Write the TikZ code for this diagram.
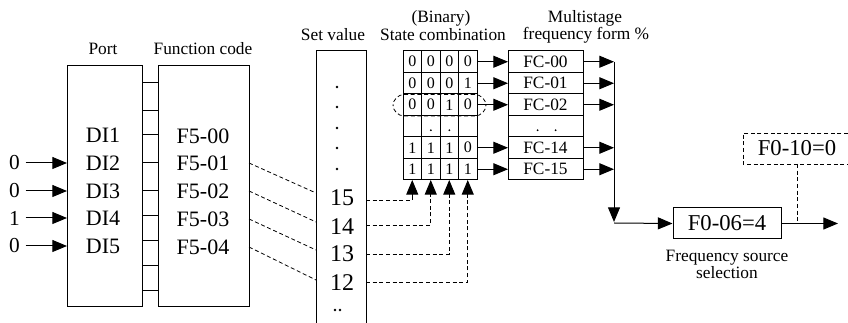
\documentclass[tikz,border=0pt]{standalone}
\usepackage{fontspec}
\setmainfont{Liberation Serif}
\usetikzlibrary{arrows.meta,fit,calc}
\begin{document}
\begin{tikzpicture}[x=0.75pt,y=-0.75pt,line width=0.75pt,
  arr/.style={-{Triangle[length=11pt,width=9pt]}},
  dsh/.style={dash pattern=on 3pt off 2pt,line width=0.6pt},
  frame/.style={draw,inner sep=0pt,outer sep=0pt},
  big/.style={font=\fontsize{16.5}{19}\selectfont,inner sep=0pt},
  num/.style={font=\fontsize{18}{20}\selectfont,inner sep=0pt},
  lbl/.style={font=\fontsize{13}{13}\selectfont,inner sep=0pt},
  cellst/.style={draw,inner sep=0pt,outer sep=0pt,minimum width=13.875pt,minimum height=16.125pt,font=\fontsize{12}{12}\selectfont},
  fcst/.style={draw,inner sep=0pt,outer sep=0pt,minimum width=56.25pt,minimum height=16.125pt,font=\fontsize{13}{13}\selectfont}]
\useasboundingbox (0,0) rectangle (848,323);

% ---- top labels
\node[lbl,anchor=base] (lport) at (103,55) {Port};
\node[lbl,anchor=base] (lfc) at (203,55) {Function code};
\node[lbl,anchor=base] (lsv) at (333,41) {Set value};
\node[lbl,anchor=base] (lbin) at (441,23) {(Binary)};
\node[lbl,anchor=base] (lsc) at (443,41) {State combination};
\node[lbl,anchor=base] (lms) at (585,23) {Multistage};
\node[lbl,anchor=base] (lff) at (586,40) {frequency form \%};

% ---- port and function code boxes
\node[frame,fit={(67,66) (142,307)}] (port) {};
\node[frame,fit={(158,66) (249,307)}] (fc) {};
\foreach \yy in {83,111,135,163,191,216,241,266,291}{
  \coordinate (t) at (0,\yy);
  \draw (port.east |- t) -- (fc.west |- t);
}
\foreach \i/\yy in {1/135,2/163,3/191,4/218,5/246}{
  \node[big] (di\i) at (103,\yy) {DI\i};
}
\foreach \i/\yy in {0/136,1/163,2/191,3/219,4/247}{
  \node[big] (f50\i) at (203,\yy) {F5-0\i};
}
% inputs
\foreach \i/\v in {2/0,3/0,4/1,5/0}{
  \node[big,font=\fontsize{16}{18}\selectfont] (in\i) at (14.5,0 |- di\i) {\v};
  \draw[arr,shorten <=4pt] (in\i.east) -- (in\i.east -| port.west);
}

% ---- set value column
\node[inner sep=0pt,outer sep=0pt,fit={(316,51) (366,323)}] (sv) {};
\draw (sv.south west) -- (sv.north west) -- (sv.north east) -- (sv.south east);
\foreach \yy in {87,107,128,148,169}{ \fill (337,\yy) circle (1.4); }
\node[num] (s15) at (342,198) {15};
\node[num] (s14) at (342,227) {14};
\node[num] (s13) at (342,254) {13};
\node[num] (s12) at (342,283) {12};
\fill (335,310) circle (1.3);
\fill (340,310) circle (1.3);

% dashed links function code -> set value
\coordinate (e15) at (316,193);
\coordinate (e14) at (316,222);
\coordinate (e13) at (316,250);
\coordinate (e12) at (316,280);
\draw[dsh] (fc.east |- f501) -- (e15);
\draw[dsh] (fc.east |- f502) -- (e14);
\draw[dsh] (fc.east |- f503) -- (e13);
\draw[dsh] (fc.east |- f504) -- (e12);

% ---- state combination grid
\foreach \r/\a/\b/\c/\d in {1/0/0/0/0,2/0/0/0/1,3/0/0/1/0,4/{}/{}/{}/{},5/1/1/1/0,6/1/1/1/1}{
  \foreach \cc/\v in {1/\a,2/\b,3/\c,4/\d}{
    \node[cellst] (g-\r-\cc) at ({403+18.5*(\cc-0.5)},{51+21.5*(\r-0.5)}) {\v};
  }
}
\fill ($(g-4-2.center)+(0,4)$) circle (1);
\fill ($(g-4-3.center)+(0,4)$) circle (1);
\node[draw,dsh,rounded corners=8.5pt,inner sep=0pt,fit={(393,94.5) (486,116)}] (sel) {};

% bottom arrows into grid
\foreach \cc in {1,2,3,4}{
  \coordinate (b\cc) at ($(g-6-\cc.south)+(0,17)$);
  \draw[arr] (b\cc) -- (g-6-\cc.south);
}
\coordinate (h15) at (0,200);
\coordinate (h14) at (0,225);
\coordinate (h13) at (0,254);
\coordinate (h12) at (0,282);
\draw[dsh] (sv.east |- h15) -| (b1);
\draw[dsh] (sv.east |- h14) -| (b2);
\draw[dsh] (sv.east |- h13) -| (b3);
\draw[dsh] (sv.east |- h12) -| (b4);

% ---- multistage frequency column
\foreach \r/\t in {1/FC-00,2/FC-01,3/FC-02,4/{},5/FC-14,6/FC-15}{
  \node[fcst] (fcr-\r) at (545.5,{51+21.5*(\r-0.5)}) {\t};
}
\fill ($(fcr-4.center)+(-8,4)$) circle (1);
\fill ($(fcr-4.center)+(10,4)$) circle (1);
\coordinate (bustop) at (614,0 |- fcr-1.east);
\coordinate (busbot) at (614,223);
\foreach \r in {1,2,3,5,6}{
  \draw[arr] (g-\r-4.east) -- (fcr-\r.west);
  \draw[arr] (fcr-\r.east) -- (fcr-\r.east -| bustop);
}
\draw[arr] (bustop) -- ($(busbot)+(0,-1)$);

% ---- frequency source selection
\node[draw,big,font=\fontsize{17}{20}\selectfont,minimum width=81pt,minimum height=23.25pt] (f006) at (727,223.5) {F0-06=4};
\draw[arr] (busbot) -- (f006.west);
\coordinate (out) at (838,0 |- f006.east);
\draw[arr] (f006.east) -- (out);
\node[lbl,align=center,font=\fontsize{13}{12.75}\selectfont] (fss) at (727,264.5) {Frequency source\\selection};

\node[inner sep=0pt,outer sep=0pt,fit={(743,133) (848,164)}] (f010frame) {};
\draw[dsh] (f010frame.north east) -- (f010frame.north west) -- (f010frame.south west) -- (f010frame.south east);
\node[big,font=\fontsize{17}{20}\selectfont] (f010) at (797,148.5) {F0-10=0};
\draw[dsh] (f010 |- f010frame.south) -- (f010 |- f006.east);
\end{tikzpicture}
\end{document}
